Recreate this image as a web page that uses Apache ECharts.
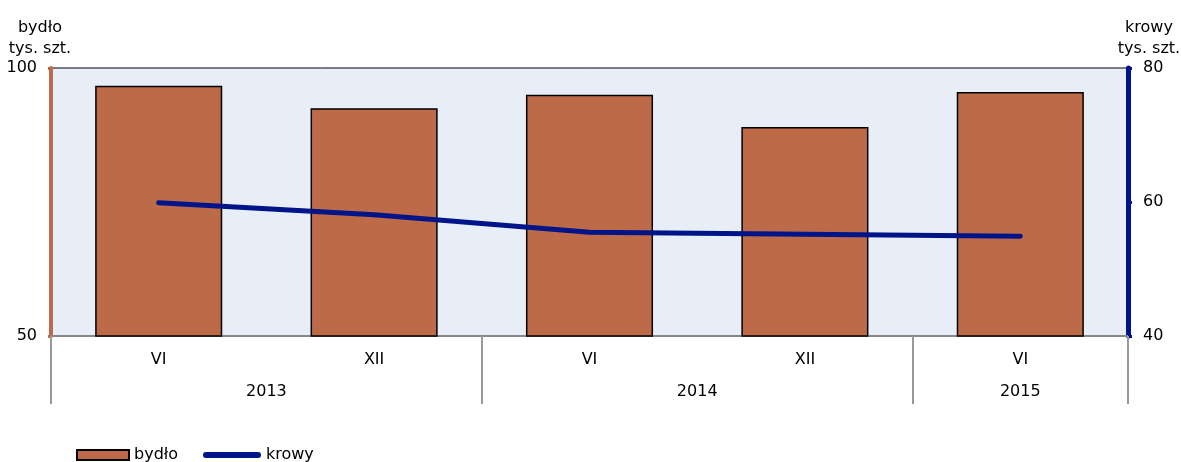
<!DOCTYPE html>
<html>
<head>
<meta charset="utf-8">
<script src="https://cdn.jsdelivr.net/npm/echarts@6/dist/echarts.min.js"></script>
<style>
html,body{margin:0;padding:0;background:#fff;}
#main{width:1181px;height:462px;}
</style>
</head>
<body>
<div id="main"></div>
<script>
const months = ['VI', 'XII', 'VI', 'XII', 'VI'];
const years = ['2013', '2014', '2015'];
const yearSpans = [2, 2, 1];
const bydlo = [96.7, 92.5, 95.0, 89.0, 95.5];
const krowy = [59.9, 58.1, 55.5, 55.2, 54.9];

// group boundaries and centres for the year axis
const bounds = [0];
const centres = [];
const yearAt = {};
yearSpans.forEach((s, i) => {
  const start = bounds[bounds.length - 1];
  bounds.push(start + s);
  const c = start + s / 2;
  centres.push(c);
  yearAt[c] = years[i];
});

const font = 'DejaVu Sans, Liberation Sans, sans-serif';
const FS = 16;
const chart = echarts.init(document.getElementById('main'));
chart.setOption({
  animation: false,
  textStyle: { fontFamily: font },
  grid: {
    left: 51, right: 53, top: 68, bottom: 126,
    outerBoundsMode: 'none', containLabel: false,
    show: true, backgroundColor: '#E8EEF7', borderColor: '#000', borderWidth: 1
  },
  legend: [
    {
      left: 76, top: 447, padding: 0,
      itemWidth: 52, itemHeight: 10, itemGap: 0,
      textStyle: { fontSize: FS, color: '#000', fontFamily: font },
      data: [{ name: 'bydło', icon: 'rect', itemStyle: { borderColor: '#000', borderWidth: 2 } }]
    },
    {
      left: 203, top: 447, padding: 0,
      itemWidth: 58, itemHeight: 6,
      textStyle: { fontSize: FS, color: '#000', fontFamily: font },
      data: [{ name: 'krowy', icon: 'path://M3,0L55,0A3,3,0,0,1,55,6L3,6A3,3,0,0,1,3,0Z', itemStyle: { color: '#001489' } }]
    }
  ],
  xAxis: [
    {
      type: 'category', data: months, gridIndex: 0, position: 'bottom',
      axisLine: { show: true, lineStyle: { color: '#888', width: 2 } },
      axisTick: { show: false },
      axisLabel: { fontSize: FS, color: '#000', margin: 16, fontFamily: font },
      splitLine: { show: false }
    },
    {
      type: 'value', min: 0, max: months.length, gridIndex: 0, position: 'bottom',
      axisLine: { show: false },
      splitLine: { show: false },
      axisTick: { show: true, customValues: bounds, length: 68, lineStyle: { color: '#999', width: 2 } },
      axisLabel: {
        show: true, customValues: centres, margin: 48, fontSize: FS, color: '#000', fontFamily: font,
        formatter: v => yearAt[v] || ''
      }
    }
  ],
  yAxis: [
    {
      type: 'value', min: 50, max: 100, interval: 50, position: 'left',
      name: 'bydło\ntys. szt.', nameLocation: 'end', nameGap: 9,
      nameTextStyle: { fontSize: FS, color: '#000', align: 'center', lineHeight: 21, padding: [0, 22, 0, 0], fontFamily: font },
      axisLine: { show: true, lineStyle: { color: '#BE6A48', width: 4 } },
      axisTick: { show: true, length: 3, lineStyle: { color: '#BE6A48', width: 3 } },
      axisLabel: { fontSize: FS, color: '#000', margin: 14, fontFamily: font },
      splitLine: { show: false }
    },
    {
      type: 'value', min: 40, max: 80, interval: 20, position: 'right',
      name: 'krowy\ntys. szt.', nameLocation: 'end', nameGap: 9,
      nameTextStyle: { fontSize: FS, color: '#000', align: 'center', lineHeight: 21, padding: [0, 0, 0, 42], fontFamily: font },
      axisLine: { show: true, lineStyle: { color: '#00138C', width: 5 } },
      axisTick: { show: true, length: 4, lineStyle: { color: '#00138C', width: 3 } },
      axisLabel: { fontSize: FS, color: '#000', margin: 15, fontFamily: font },
      splitLine: { show: false }
    }
  ],
  series: [
    {
      name: 'bydło', type: 'bar', xAxisIndex: 0, yAxisIndex: 0, data: bydlo,
      barWidth: '59%',
      itemStyle: { color: '#BC6A48', borderColor: '#000', borderWidth: 1.5 }
    },
    {
      name: 'krowy', type: 'line', xAxisIndex: 0, yAxisIndex: 1, data: krowy,
      symbol: 'none', showSymbol: false, z: 5,
      itemStyle: { color: '#001489' },
      lineStyle: { color: '#001489', width: 5, cap: 'round', join: 'round' }
    }
  ]
});
</script>
</body>
</html>
